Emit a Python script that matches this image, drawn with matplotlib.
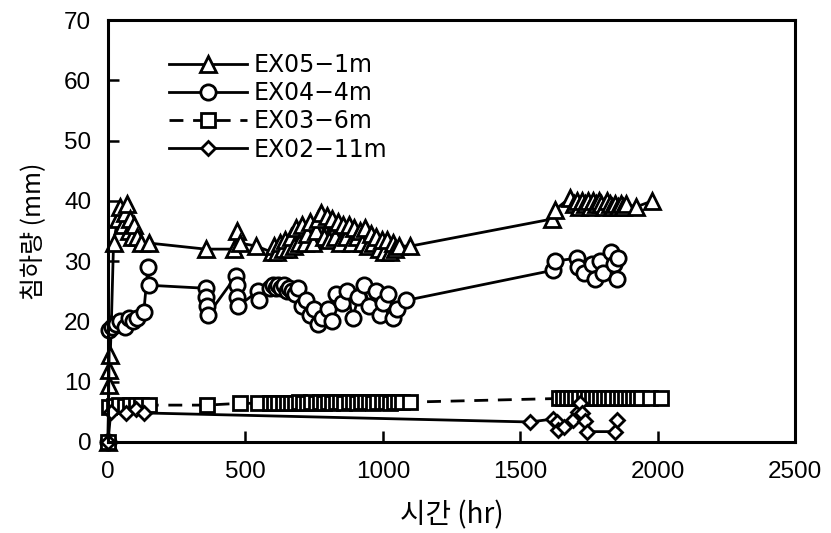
import matplotlib
matplotlib.use("Agg")
import matplotlib.pyplot as plt

plt.rcParams['font.family'] = ['Liberation Sans', 'Noto Sans CJK KR', 'DejaVu Sans']

# ---- data ----
t05 = [0, 3, 5, 8, 12, 20, 35, 45, 55, 62, 70, 75, 80, 88, 95, 105, 120, 150,
       355, 460, 470, 480, 540,
       595, 605, 615, 625, 635, 645, 655, 665, 675, 685, 695, 705, 715, 725,
       735, 745, 755, 765, 775, 785, 795, 805, 815, 825, 835, 845, 855, 865,
       875, 885, 895, 905, 915, 925, 935, 945, 955, 965, 975, 985, 995, 1005,
       1015, 1025, 1035, 1045, 1060, 1100,
       1615, 1625, 1680, 1695, 1705, 1715, 1725, 1735, 1745, 1755, 1765, 1775,
       1785, 1795, 1805, 1815, 1825, 1835, 1845, 1855, 1865, 1875, 1885,
       1920, 1980]
y05 = [0, 9.5, 12, 14.5, 19.5, 33, 37, 39, 36, 38, 39.5, 35, 37, 34, 36, 34, 33, 33,
       32, 32, 35, 33, 32.5,
       31.5, 32.5, 31.5, 33, 32, 33.5, 32, 34, 32.5, 35.5, 33, 36, 33, 34.5,
       36.5, 33, 35, 37, 38, 34, 37.5, 33.5, 37, 34, 36.5, 33, 36, 34,
       36, 33, 35.5, 34, 35, 33, 35.5, 32.5, 34.5, 33, 34, 32, 33.5, 31.5,
       33.5, 31.5, 33, 32, 32.5, 32.5,
       37, 38.5, 40.5, 39.5, 40, 39, 40, 39.5, 40, 39, 40, 39.5,
       40, 39.5, 39, 40, 39.5, 39, 39.5, 39, 39.5, 39, 39.5,
       39, 40]

t04 = [0, 5, 15, 30, 45, 60, 75, 90, 105, 130, 145, 150,
       355, 358, 360, 362, 465, 468, 470, 472, 545, 548,
       590, 600, 610, 620, 630, 640, 650, 660, 670, 680, 690, 705, 720, 735,
       750, 765, 780, 800, 815, 830, 850, 870, 890, 910, 930, 950, 975, 990,
       1000, 1020, 1035, 1050, 1085,
       1620, 1625, 1705, 1710, 1730, 1760, 1770, 1790, 1800, 1830, 1840, 1850,
       1855]
y04 = [0, 18.5, 19, 19.5, 20, 19, 20.5, 20, 20.5, 21.5, 29, 26,
       25.5, 24, 22.5, 21, 27.5, 26, 24, 22.5, 25, 23.5,
       25.5, 26, 25.5, 26, 25.5, 26, 25, 25.5, 25, 24.5, 25.5, 22.5, 23.5, 21,
       22, 19.5, 20.5, 22, 20, 24.5, 23, 25, 20.5, 24, 26, 22.5, 25, 21,
       23, 24.5, 20.5, 22, 23.5,
       28.5, 30, 30.5, 29, 28, 29.5, 27, 30, 28, 31.5, 29.5, 27,
       30.5]

t03 = [0, 5, 20, 40, 60, 80, 100, 120, 150, 360, 480, 545,
       590, 605, 620, 635, 650, 665, 680, 695, 710, 725, 740, 755, 770, 785,
       800, 815, 830, 845, 860, 875, 890, 905, 920, 935, 950, 965, 980, 995,
       1010, 1025, 1040, 1055, 1070, 1100,
       1640, 1655, 1670, 1685, 1700, 1715, 1730, 1745, 1760, 1775, 1790, 1805,
       1820, 1835, 1850, 1865, 1880, 1895, 1910, 1925, 1940, 1970, 2010]
y03 = [0, 5.8, 6.0, 6.2, 6.0, 6.1, 6.2, 6.1, 6.1, 6.1, 6.4, 6.4,
       6.4, 6.5, 6.4, 6.5, 6.5, 6.4, 6.5, 6.6, 6.5, 6.5, 6.6, 6.5, 6.6, 6.5,
       6.6, 6.5, 6.6, 6.6, 6.5, 6.6, 6.6, 6.5, 6.6, 6.6, 6.6, 6.5, 6.6, 6.6,
       6.6, 6.5, 6.6, 6.6, 6.6, 6.6,
       7.2, 7.3, 7.2, 7.3, 7.3, 7.2, 7.3, 7.3, 7.2, 7.3, 7.3, 7.3,
       7.2, 7.3, 7.3, 7.3, 7.2, 7.3, 7.3, 7.3, 7.3, 7.3, 7.3]

t02 = [0, 10, 65, 100, 131, 1535, 1620, 1633, 1637, 1660, 1692, 1710, 1717,
       1724, 1735, 1742, 1844, 1850]
y02 = [0, 5, 4.8, 5.5, 4.8, 3.3, 3.8, 3.3, 2.0, 2.5, 3.6, 5.0, 6.4,
       4.8, 3.5, 1.7, 1.7, 3.6]

labels = ['EX05\u22121m', 'EX04\u22124m', 'EX03\u22126m', 'EX02\u221211m']

fig = plt.figure(figsize=(8.31, 5.33), dpi=100)
ax = fig.add_axes([0.130, 0.171, 0.827, 0.791])

common = dict(color='black', markerfacecolor='white', markeredgecolor='black',
              markeredgewidth=2.0, linewidth=2.0, clip_on=False)
ax.plot(t05, y05, '-', marker='^', markersize=11, label=labels[0], **common)
ax.plot(t04, y04, '-', marker='o', markersize=11, label=labels[1], **common)
ax.plot(t03, y03, '--', marker='s', markersize=10, label=labels[2],
        dashes=(5, 3.5), **common)
ax.plot(t02, y02, '-', marker='D', markersize=7.5, label=labels[3], **common)

ax.set_xlim(0, 2500)
ax.set_ylim(0, 70)
ax.set_xticks([0, 500, 1000, 1500, 2000, 2500])
ax.set_yticks([0, 10, 20, 30, 40, 50, 60, 70])
ax.tick_params(direction='in', length=8, width=1.8, labelsize=17.5,
               top=False, right=False)
ax.tick_params(axis='x', pad=14)
ax.tick_params(axis='y', pad=12)
for s in ax.spines.values():
    s.set_linewidth(2.2)

ax.set_xlabel('시간 (hr)', fontsize=20, family=['Noto Sans CJK KR', 'DejaVu Sans'],
              labelpad=12)
ax.set_ylabel('침하량 (mm)', fontsize=18, family=['Noto Sans CJK KR', 'DejaVu Sans'],
              labelpad=12)

leg = ax.legend(loc='upper left', bbox_to_anchor=(0.075, 0.945), frameon=False,
                prop={'family': 'DejaVu Sans', 'size': 17},
                handlelength=3.3, handletextpad=0.3, labelspacing=0.18,
                borderaxespad=0.0)

fig.savefig('out.png', dpi=100)
